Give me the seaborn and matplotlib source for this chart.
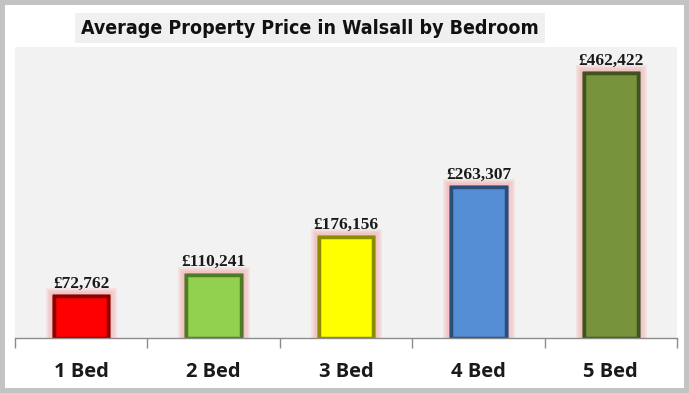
import matplotlib
matplotlib.use("Agg")
import matplotlib.pyplot as plt
import matplotlib.patheffects as pe
from matplotlib.patches import Rectangle
import seaborn as sns
import pandas as pd

bedrooms = ["1 Bed", "2 Bed", "3 Bed", "4 Bed", "5 Bed"]
prices = [72762, 110241, 176156, 263307, 462422]
bar_colors = ["#ff0000", "#92d050", "#ffff00", "#558ed5", "#77933c"]
edge_colors = ["#8b0000", "#4f7a28", "#8c8c00", "#2c4d7a", "#3f5220"]

df = pd.DataFrame({"bedroom": bedrooms, "price": prices})

sns.set_theme(style="white")

fig = plt.figure(figsize=(6.89, 3.93), dpi=100)
fig.patch.set_facecolor("#c3c3c3")
fig.patches.append(Rectangle((5 / 689, 5 / 393), 679 / 689, 383 / 393,
                             transform=fig.transFigure, facecolor="white",
                             edgecolor="none", zorder=-5))

ax = fig.add_axes([15 / 689, 55 / 393, 662 / 689, 291 / 393])
ax.set_zorder(2)
ax.set_facecolor("#f2f2f2")

sns.barplot(data=df, x="bedroom", y="price", hue="bedroom", palette=bar_colors,
            legend=False, width=0.41, ax=ax, saturation=1)

# soft pink glow around the bars plus a darker bevel-like edge
glow = [pe.withStroke(linewidth=w, foreground="#f4a6a6", alpha=0.25)
        for w in (12, 9, 6)]
for bar, ec in zip(ax.patches, edge_colors):
    bar.set_edgecolor(ec)
    bar.set_linewidth(2.5)
    bar.set_path_effects(glow + [pe.Normal()])

for i, p in enumerate(prices):
    ax.text(i, p + 8000, f"£{p:,}", ha="center", va="bottom",
            fontsize=12.5, fontweight="bold", family="Liberation Serif",
            color="#1a1a1a")

ax.set_ylim(0, 508000)
ax.set_xlim(-0.5, 4.5)
ax.set_yticks([])
ax.set_xlabel("")
ax.set_ylabel("")
ax.set_xticks(range(len(bedrooms)))
ax.set_xticklabels(bedrooms, fontsize=14.5, fontweight="bold",
                   family=["Open Sans", "DejaVu Sans"], color="#1a1a1a")
ax.tick_params(axis="x", which="major", length=0, pad=17)
ax.set_xticks([-0.5, 0.5, 1.5, 2.5, 3.5, 4.5], minor=True)
ax.tick_params(axis="x", which="minor", length=7, color="#8c8c8c", width=1,
               direction="out", bottom=True)

for side in ["top", "right", "left"]:
    ax.spines[side].set_visible(False)
ax.spines["bottom"].set_color("#8c8c8c")
ax.spines["bottom"].set_linewidth(1)

fig.text(310 / 689, 1 - 28 / 393, "Average Property Price in Walsall by Bedroom",
         ha="center", va="center", fontsize=14, fontweight="bold",
         fontstretch="condensed", family=["DejaVu Sans"], color="#111111",
         bbox=dict(boxstyle="square,pad=0.3", facecolor="#f0f0f0", edgecolor="none"))

plt.savefig("out.png", dpi=100, facecolor=fig.get_facecolor())
plt.close(fig)
